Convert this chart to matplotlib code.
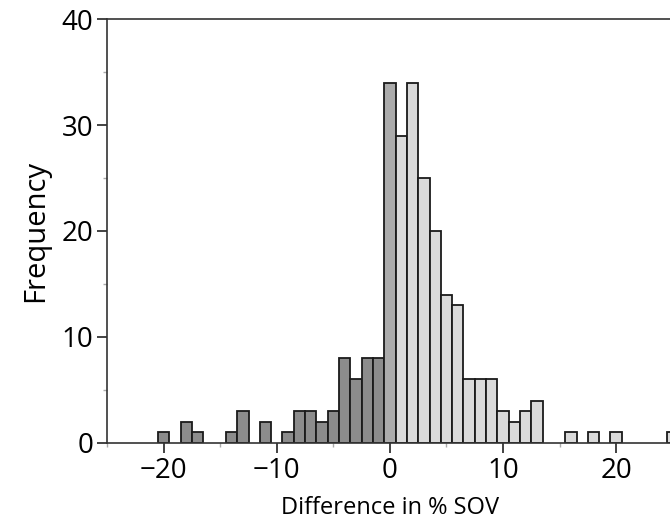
import matplotlib.pyplot as plt
from matplotlib.ticker import MultipleLocator

plt.rcParams['font.family'] = ['Open Sans', 'DejaVu Sans']

# negative differences (dark bars)
neg_bins = [-20, -18, -17, -14, -13, -11, -9, -8, -7, -6, -5, -4, -3, -2, -1]
neg_freq = [1, 2, 1, 1, 3, 2, 1, 3, 3, 2, 3, 8, 6, 8, 8]

# zero bin (mixed tone)
zero_bin = [0]
zero_freq = [34]

# positive differences (light bars)
pos_bins = [1, 2, 3, 4, 5, 6, 7, 8, 9, 10, 11, 12, 13, 16, 18, 20, 25]
pos_freq = [29, 34, 25, 20, 14, 13, 6, 6, 6, 3, 2, 3, 4, 1, 1, 1, 1]

xticks = [-20, -10, 0, 10, 20]
yticks = [0, 10, 20, 30, 40]

fig = plt.figure(figsize=(6.7, 5.28), dpi=100)
ax = fig.add_axes([0.16, 0.161, 0.844, 0.803])

edge = '#1a1a1a'
ax.bar(neg_bins, neg_freq, width=1, color='#8c8c8c', edgecolor=edge, linewidth=1.3)
ax.bar(zero_bin, zero_freq, width=1, color='#ababab', edgecolor=edge, linewidth=1.3)
ax.bar(pos_bins, pos_freq, width=1, color='#dadada', edgecolor=edge, linewidth=1.3)

ax.set_xlim(-25, 25)
ax.set_ylim(0, 40)
ax.set_xticks(xticks)
ax.set_xticklabels(['\u221220', '\u221210', '0', '10', '20'])
ax.set_yticks(yticks)
ax.xaxis.set_minor_locator(MultipleLocator(5))
ax.yaxis.set_minor_locator(MultipleLocator(5))
ax.tick_params(which='major', direction='out', length=7, width=1.2, labelsize=20, color='#222222', pad=3)
ax.tick_params(which='minor', direction='out', length=3, width=1, color='#aaaaaa')
ax.tick_params(axis='y', which='both', right=False)
ax.tick_params(axis='x', which='both', top=False)

for s in ax.spines.values():
    s.set_linewidth(1.2)
    s.set_color('#333333')

ax.set_xlabel('Difference in % SOV', fontsize=17, labelpad=8)
ax.set_ylabel('Frequency', fontsize=21, labelpad=8)

fig.savefig('out.png', dpi=100)
